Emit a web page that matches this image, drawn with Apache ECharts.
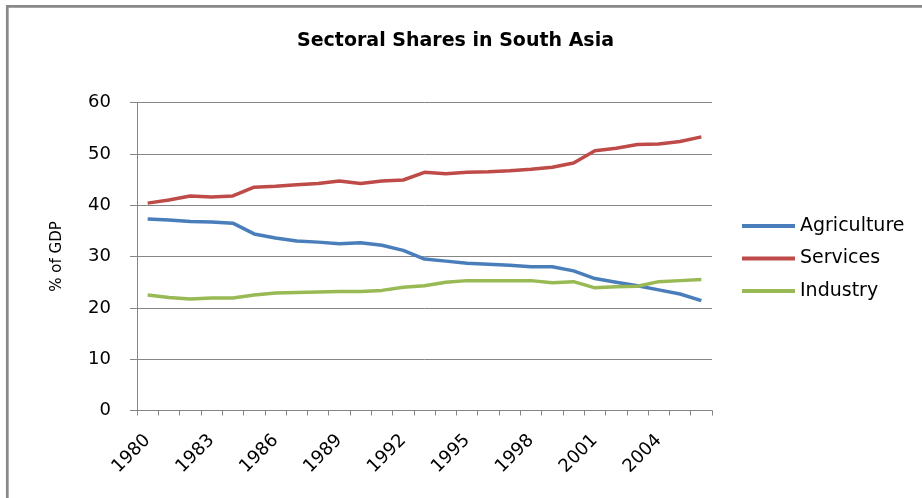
<!DOCTYPE html>
<html>
<head>
<meta charset="utf-8">
<script src="https://cdn.jsdelivr.net/npm/echarts@6/dist/echarts.min.js"></script>
<style>
  html, body { margin: 0; padding: 0; background: #fff; }
  #chart { width: 922px; height: 498px; }
</style>
</head>
<body>
<div id="chart"></div>
<script>
// Sectoral shares in South Asia, % of GDP, 1980-2006
var years = [];
for (var y = 1980; y <= 2006; ++y) years.push(String(y));

var agriculture = [37.3, 37.1, 36.8, 36.7, 36.5, 34.4, 33.6, 33.0, 32.8, 32.5,
  32.7, 32.2, 31.2, 29.5, 29.1, 28.7, 28.5, 28.3, 28.0, 28.0,
  27.2, 25.7, 25.0, 24.3, 23.5, 22.7, 21.4];
var services = [40.4, 41.0, 41.8, 41.6, 41.8, 43.5, 43.7, 44.0, 44.2, 44.7,
  44.2, 44.7, 44.9, 46.4, 46.1, 46.4, 46.5, 46.7, 47.0, 47.4,
  48.2, 50.6, 51.1, 51.8, 51.9, 52.4, 53.3];
var industry = [22.5, 22.0, 21.7, 21.9, 21.9, 22.5, 22.9, 23.0, 23.1, 23.2,
  23.2, 23.4, 24.0, 24.3, 25.0, 25.3, 25.3, 25.3, 25.3, 24.9,
  25.1, 23.9, 24.1, 24.2, 25.1, 25.3, 25.5];

var seriesNames = ['Agriculture', 'Services', 'Industry'];
var seriesColors = ['#4a7ebb', '#be4b48', '#98b954'];

var FONT = 'DejaVu Sans';
var GRID_GRAY = '#868686';

var chart = echarts.init(document.getElementById('chart'), null, { renderer: 'canvas' });

function lineSeries(name, data, color) {
  return {
    name: name,
    type: 'line',
    data: data,
    symbol: 'none',
    smooth: false,
    lineStyle: { width: 3.5, color: color },
    itemStyle: { color: color }
  };
}

chart.setOption({
  animation: false,
  backgroundColor: '#fff',
  title: {
    text: 'Sectoral Shares in South Asia',
    left: 292,
    top: 27,
    textStyle: { fontFamily: FONT, fontSize: 19, fontWeight: 'bold', color: '#000' }
  },
  legend: {
    orient: 'vertical',
    left: 742,
    top: 216.5,
    padding: 0,
    icon: 'rect',
    itemWidth: 53,
    itemHeight: 4,
    itemGap: 13.5,
    data: seriesNames,
    textStyle: { fontFamily: FONT, fontSize: 19, color: '#000' }
  },
  grid: { left: 137, right: 210, top: 102.5, bottom: 87.5, containLabel: false },
  xAxis: {
    type: 'category',
    data: years,
    boundaryGap: true,
    axisLine: { show: true, lineStyle: { color: GRID_GRAY, width: 1 } },
    axisTick: { show: true, interval: 0, length: 5, lineStyle: { color: GRID_GRAY } },
    axisLabel: {
      interval: 2,
      rotate: 45,
      margin: 27,
      fontFamily: FONT,
      fontSize: 18,
      color: '#000'
    },
    splitLine: { show: false }
  },
  yAxis: {
    type: 'value',
    min: 0,
    max: 60,
    interval: 10,
    name: '% of GDP',
    nameLocation: 'middle',
    nameRotate: 90,
    nameGap: 72,
    nameTextStyle: { fontFamily: FONT, fontSize: 15, color: '#000' },
    axisLine: { show: true, lineStyle: { color: GRID_GRAY, width: 1 } },
    axisTick: { show: true, inside: false, length: 7, lineStyle: { color: GRID_GRAY } },
    axisLabel: { margin: 26, fontFamily: FONT, fontSize: 18, color: '#000' },
    splitLine: { show: true, lineStyle: { color: GRID_GRAY, width: 1 } }
  },
  graphic: [
    {
      type: 'polyline',
      silent: true,
      shape: { points: [[7.3, 498], [7.3, 6.3], [922, 6.3]] },
      style: { stroke: '#888', lineWidth: 2.7, fill: null }
    }
  ],
  series: [
    lineSeries(seriesNames[0], agriculture, seriesColors[0]),
    lineSeries(seriesNames[1], services, seriesColors[1]),
    lineSeries(seriesNames[2], industry, seriesColors[2])
  ]
});
</script>
</body>
</html>
